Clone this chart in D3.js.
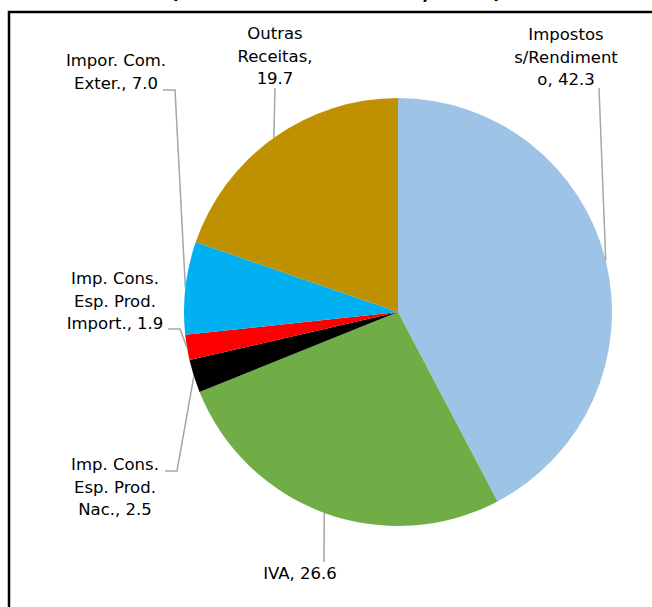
<!DOCTYPE html>
<html>
<head>
<meta charset="utf-8">
<script src="https://cdn.jsdelivr.net/npm/d3@7"></script>
<style>
    body { margin: 0; background: #fff; }
    svg { display: block; }
    .lbl { font-family: "DejaVu Sans", Verdana, sans-serif; font-size: 16.5px; fill: #000; }
    .ttl { font-family: "DejaVu Sans", Verdana, sans-serif; font-size: 18px; font-weight: bold; }
</style>
</head>
<body>
<div id="chart"></div>
<script>
// data (slices go clockwise from 12 o'clock)
const categories = ['Impostos s/Rendimento', 'IVA', 'Imp. Cons. Esp. Prod. Nac.',
                    'Imp. Cons. Esp. Prod. Import.', 'Impor. Com. Exter.', 'Outras Receitas'];
const values = [42.3, 26.6, 2.5, 1.9, 7.0, 19.7];
const titleText = '(Em % da receita total, 2016)';

// styles
const sliceColors = ['#9DC3E6', '#70AD47', '#000000', '#FF0000', '#00B0F0', '#BF9000'];

// label placement (centre x, first baseline) and leader line elbows
const labelPos = [
    {x: 566, y: 40,  leader: [[599, 88]]},
    {x: 300, y: 579, leader: [[324, 562]]},
    {x: 115, y: 470, leader: [[165, 471], [177, 471]]},
    {x: 115, y: 284, leader: [[168, 329], [180, 329]]},
    {x: 116, y: 66,  leader: [[163, 90], [175, 90]]},
    {x: 275, y: 39,  leader: [[275, 88]]}
];

const width = 652, height = 607;
const cx = 398, cy = 312, radius = 214;
const lineHeight = 22.5, wrapWidth = 108;

const svg = d3.select('#chart').append('svg')
    .attr('width', width)
    .attr('height', height);

// frame (runs off the right and bottom edge in the source)
svg.append('rect')
    .attr('x', 9).attr('y', 12)
    .attr('width', width + 20).attr('height', height + 20)
    .attr('fill', 'none')
    .attr('stroke', '#000')
    .attr('stroke-width', 2.5);

// title, cut off at the top in the source: only the bottoms of ( , ) show
svg.append('text')
    .attr('class', 'ttl')
    .attr('x', 170).attr('y', -1)
    .attr('textLength', 332)
    .attr('lengthAdjust', 'spacingAndGlyphs')
    .text(titleText);

//************* PIE *************//
const pie = d3.pie().sort(null).value(d => d);
const arcs = pie(values);

const arc = d3.arc().innerRadius(0).outerRadius(radius);
const edge = d3.arc().innerRadius(radius).outerRadius(radius);

const g = svg.append('g').attr('transform', `translate(${cx},${cy})`);

g.selectAll('path')
    .data(arcs)
    .enter()
    .append('path')
        .attr('d', arc)
        .attr('fill', (d, i) => sliceColors[i]);

//************* LABELS *************//
const leader = d3.line();

arcs.forEach((d, i) => {
    let p = labelPos[i];
    let tip = edge.centroid(d);
    let pts = p.leader.concat([[tip[0] + cx, tip[1] + cy]]);

    svg.append('path')
        .attr('d', leader(pts))
        .attr('fill', 'none')
        .attr('stroke', '#A6A6A6')
        .attr('stroke-width', 1.5);

    let txt = svg.append('text')
        .attr('class', 'lbl')
        .attr('text-anchor', 'middle');
    wrap(txt, categories[i] + ', ' + values[i].toFixed(1), p.x, p.y);
});

// wrap like Excel does: by words, and split a word that is too long
function wrap(txt, str, x, y) {
    let probe = txt.append('tspan');
    let fits = s => { probe.text(s); return probe.node().getComputedTextLength() <= wrapWidth; };
    let lines = [];
    let cur = '';
    str.split(' ').forEach(w => {
        let tryLine = cur ? cur + ' ' + w : w;
        if (fits(tryLine)) { cur = tryLine; return; }
        if (cur) lines.push(cur);
        cur = w;
        while (!fits(cur)) {
            let k = cur.length - 1;
            while (k > 1 && !fits(cur.slice(0, k))) k--;
            lines.push(cur.slice(0, k));
            cur = cur.slice(k);
        }
    });
    lines.push(cur);
    probe.remove();

    lines.forEach((l, j) => {
        txt.append('tspan')
            .attr('x', x)
            .attr('y', y + j * lineHeight)
            .text(l);
    });
}
</script>
</body>
</html>
